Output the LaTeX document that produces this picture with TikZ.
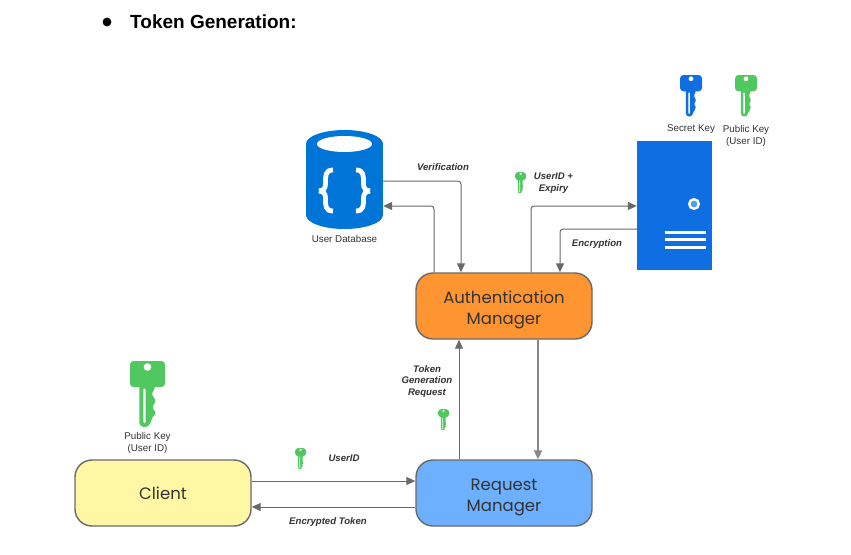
\documentclass[tikz,border=0pt]{standalone}
\usepackage{fontspec}
\setmainfont{Liberation Sans}
\newfontfamily\boxfont{Poppins}
\definecolor{KeyGreen}{RGB}{80,200,95}
\definecolor{KeyBlue}{RGB}{15,110,225}
\definecolor{BaseBlue}{RGB}{0,117,216}
\definecolor{MgrOrange}{RGB}{255,149,48}
\definecolor{MgrBlue}{RGB}{108,176,255}
\definecolor{MgrYellow}{RGB}{255,247,163}
\definecolor{LineGray}{RGB}{105,105,105}
\definecolor{TextGray}{RGB}{51,51,51}
\usetikzlibrary{arrows.meta, shapes.geometric, positioning}
\newcommand{\mgrstrut}{\rule{0pt}{20pt}}
\tikzset{
	pics/keyicon/.style={code={
		\fill[#1, rounded corners=3.5pt] (0,0) rectangle (35,26);
		\fill[#1, rounded corners=1.5pt] (9.3,20) -- (9.3,63) -- (12,66) -- (17,66) -- (20,63)
			-- (22,57) -- (26,52) -- (22,46) -- (26,40) -- (21.7,33) -- (25,27) -- (25,20) -- cycle;
		\fill[white] (17.5,6) circle (3.8);
		\fill[white, rounded corners=1pt] (13.3,27.5) rectangle (15.7,62);
	}}
}
\begin{document}
\begin{tikzpicture}[x=1pt, y=-1pt,
	manager/.style={rectangle, rounded corners=17pt, draw=LineGray, line width=1.4pt, minimum width=176pt,
		minimum height=66pt, inner sep=0pt, align=center, text=TextGray, font=\boxfont\fontsize{16.5}{21}\selectfont},
	flow/.style={LineGray, line width=1pt, rounded corners=3pt, -{Triangle[length=9pt, width=8pt]}},
	heavyflow/.style={flow, draw=LineGray!80, line width=1.5pt},
	caption/.style={inner sep=0pt, align=center, text=TextGray, font=\fontsize{9.8}{12}\selectfont},
	flowlabel/.style={inner sep=0pt, align=center, text=TextGray, font=\bfseries\itshape\fontsize{9.6}{11.8}\selectfont}]
	\useasboundingbox (0,0) rectangle (851,554);
	\fill[white] (0,0) rectangle (851,554);
	% titulo
	\node[inner sep=0pt, anchor=west, font=\bfseries\fontsize{19}{22}\selectfont] (title) at (130,22) {Token Generation:};
	\fill[black] (107,22) circle (4.4);
	% managers
	\node[manager, fill=MgrOrange] (auth) at (504,306) {\mgrstrut Authentication\\Manager};
	\node[manager, fill=MgrBlue] (request) at (504,493) {\mgrstrut Request\\Manager};
	\node[manager, fill=MgrYellow] (client) at (163,493) {Client};
	% user database
	\node[rectangle, inner sep=0pt, minimum width=77pt, minimum height=99pt] (base) at (344.5,179.5) {};
	\fill[BaseBlue] (344.5,144) ellipse (38.5 and 14);
	\fill[BaseBlue] (344.5,215) ellipse (38.5 and 14);
	\fill[BaseBlue] (306,144) rectangle (383,215);
	\node[ellipse, fill=white, inner sep=0pt, minimum width=55pt, minimum height=16pt] (baseTop) at (344.5,144) {};
	\draw[white, line width=4.8pt] (333,170) .. controls (325,170) and (325.5,176) .. (325.5,184) .. controls (325.5,189) and (323,190.5) .. (319,191)
		(333,211) .. controls (325,211) and (325.5,205) .. (325.5,198) .. controls (325.5,193) and (323,191.5) .. (319,191);
	\draw[white, line width=4.8pt] (356,170) .. controls (364,170) and (363.5,176) .. (363.5,184) .. controls (363.5,189) and (366,190.5) .. (370,191)
		(356,211) .. controls (364,211) and (363.5,205) .. (363.5,198) .. controls (363.5,193) and (366,191.5) .. (370,191);
	\node[caption] (baseLabel) at (344.5,239) {User Database};
	% server
	\node[rectangle, fill=KeyBlue, inner sep=0pt, minimum width=75pt, minimum height=129pt] (server) at (674.5,205.5) {};
	\draw[white, fill=MgrBlue!70!KeyBlue, line width=2.4pt] (694,204) circle (4.8);
	\foreach \y in {232,239,247}
		{\draw[white, line width=3pt] (664.5,\y) -- (705.5,\y);}
	% keys
	\pic at (130,361) {keyicon=KeyGreen};
	\pic[scale=0.63] at (680,75) {keyicon=KeyBlue};
	\pic[scale=0.63] at (735,75) {keyicon=KeyGreen};
	\foreach \x/\y in {515/172, 295/448, 438/409}
		{\pic[scale=0.32] at (\x,\y) {keyicon=KeyGreen};}
	\node[caption] (secretLabel) at (691,129.5) {Secret Key};
	\node[caption] (publicLabel) at (746,135.5) {Public Key\\(User ID)};
	\node[caption] (clientLabel) at (147.5,442.5) {Public Key\\(User ID)};
	% connectors
	\coordinate (verifyBend) at (461,181);
	\coordinate (answerBend) at (434,206);
	\coordinate (signBend) at (531,206);
	\coordinate (cryptBend) at (560,229);
	\coordinate (downMark) at (538,400);
	\coordinate (upMark) at (459,400);
	\coordinate (sendMark) at (330,481);
	\coordinate (tokenMark) at (330,507);
	\draw[flow] (base.east |- verifyBend) -| (auth.north -| verifyBend);
	\draw[flow] (auth.north -| answerBend) |- (base.east |- answerBend);
	\draw[flow] (auth.north -| signBend) |- (server.west |- signBend);
	\draw[flow] (server.west |- cryptBend) -| (auth.north -| cryptBend);
	\draw[heavyflow] (auth.south -| downMark) -- (request.north -| downMark);
	\draw[flow] (request.north -| upMark) -- (auth.south -| upMark);
	\draw[flow] (client.east |- sendMark) -- (request.west |- sendMark);
	\draw[flow] (request.west |- tokenMark) -- (client.east |- tokenMark);
	% labels
	\node[flowlabel] (verifyLabel) at (443,167) {Verification};
	\node[flowlabel] (expiryLabel) at (553.5,183) {UserID +\\Expiry};
	\node[flowlabel] (cryptLabel) at (597,244) {Encryption};
	\node[flowlabel] (genLabel) at (427,381.5) {Token\\Generation\\Request};
	\node[flowlabel] (userLabel) at (344,458) {UserID};
	\node[flowlabel] (tokenLabel) at (328,522) {Encrypted Token};
\end{tikzpicture}
\end{document}
